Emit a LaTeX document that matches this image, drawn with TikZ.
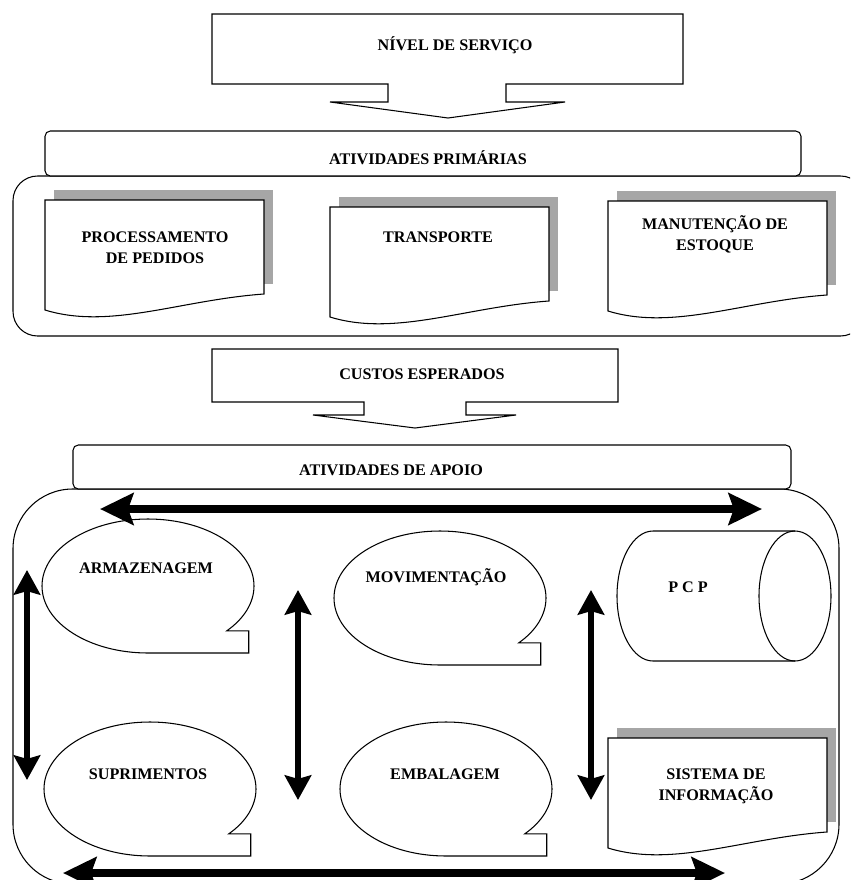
\documentclass[tikz,border=0pt]{standalone}
\usepackage{fontspec}
\setmainfont{Liberation Serif}
\usetikzlibrary{arrows.meta,calc}
\tikzset{
  lg/line/.style={line width=0.6pt},
  lg/bar/.style={lg/line, rounded corners=3pt, fill=white},
  lg/label/.style={font=\bfseries\fontsize{9.2}{11.8}\selectfont, inner sep=0pt, align=center},
  lg/shadow/.style={fill=black!35},
  lg/bigarrow/.style={line width=4pt,
    {Stealth[length=19pt,width=18pt,inset=3pt]}-{Stealth[length=19pt,width=18pt,inset=3pt]}},
  lg/vertarrow/.style={line width=3.4pt,
    {Stealth[length=14pt,width=15pt,inset=2pt]}-{Stealth[length=14pt,width=15pt,inset=2pt]}},
  pics/docshape/.style={code={
    \fill[lg/shadow] (9,-10) rectangle (228,84);
    \draw[lg/line, fill=white] (0,0) -- (219,0) -- (219,94)
      .. controls (135,100) and (65,130) .. (0,110) -- cycle;
  }},
  pics/bubble/.style={code={
    \draw[lg/line, fill=white] (0,67) arc[start angle=90, end angle=402, x radius=106, y radius=67]
      -- ++(22,0) |- (0,67) -- cycle;
  }}
}

\begin{document}
\begin{tikzpicture}[x=0.02cm, y=-0.02cm]
  \useasboundingbox (0,0) rectangle (850,880);
  \clip (0,0) rectangle (850,880);

  % service level
  \draw[lg/line] (212,14) -- (683,14) -- (683,84) -- (506,84) -- (506,102) -- (565,102)
    -- (448,118) -- (330,102) -- (388,102) -- (388,84) -- (212,84) -- cycle;
  \node[lg/label, anchor=base] (nivel) at (455,50) {NÍVEL DE SERVIÇO};

  % primary activities
  \draw[lg/line, rounded corners=14pt] (13,176) rectangle (865,336);
  \draw[lg/bar] (45,131) rectangle (801,176);
  \node[lg/label, anchor=base] (primarias) at (428,164) {ATIVIDADES PRIMÁRIAS};

  \pic at (45,200) {docshape};
  \pic at (330,207) {docshape};
  \pic at (608,201) {docshape};
  \node[lg/label, anchor=base] (pedidos) at (155,263) {PROCESSAMENTO\\DE PEDIDOS};
  \node[lg/label, anchor=base] (transp) at (438,242) {TRANSPORTE};
  \node[lg/label, anchor=base] (estoque) at (715,250) {MANUTENÇÃO DE\\ESTOQUE};

  % expected costs
  \draw[lg/line] (212,349) -- (618,349) -- (618,402) -- (466,402) -- (466,415) -- (516,415)
    -- (415,428) -- (313,415) -- (364,415) -- (364,402) -- (212,402) -- cycle;
  \node[lg/label, anchor=base] (custos) at (422,379) {CUSTOS ESPERADOS};

  % support activities
  \draw[lg/line, rounded corners=34pt] (13,489) rectangle (839,884);
  \draw[lg/bar] (73,445) rectangle (791,489);
  \node[lg/label, anchor=base] (apoio) at (391,475) {ATIVIDADES DE APOIO};

  \pic at (148,586) {bubble};
  \pic at (440,598) {bubble};
  \pic at (150,789) {bubble};
  \pic at (446,789) {bubble};
  \node[lg/label, anchor=base] (armaz) at (146,573) {ARMAZENAGEM};
  \node[lg/label, anchor=base] (movim) at (436,582) {MOVIMENTAÇÃO};
  \node[lg/label, anchor=base] (suprim) at (148,779) {SUPRIMENTOS};
  \node[lg/label, anchor=base] (embal) at (445,779) {EMBALAGEM};

  \draw[lg/line] (795,531) -- (653,531) arc[start angle=270, end angle=90, x radius=36, y radius=65]
    -- (795,661);
  \draw[lg/line] (795,596) ellipse [x radius=36, y radius=65];
  \node[lg/label, anchor=base] (pcp) at (688,592) {P C P};

  \pic at (608,738) {docshape};
  \node[lg/label, anchor=base] (sistema) at (716,800) {SISTEMA DE\\INFORMAÇÃO};

  \coordinate (topL) at (100,509);
  \coordinate (topR) at (762,509);
  \coordinate (botL) at (63,873);
  \coordinate (botR) at (725,873);
  \coordinate (v1t) at (27,570);
  \coordinate (v1b) at (27,780);
  \coordinate (v2t) at (298,590);
  \coordinate (v2b) at (298,800);
  \coordinate (v3t) at (591,590);
  \coordinate (v3b) at (591,800);

  \draw[lg/bigarrow] (topL) -- (topR);
  \draw[lg/bigarrow] (botL) -- (botR);
  \draw[lg/vertarrow] (v1t) -- (v1b);
  \draw[lg/vertarrow] (v2t) -- (v2b);
  \draw[lg/vertarrow] (v3t) -- (v3b);
\end{tikzpicture}
\end{document}
